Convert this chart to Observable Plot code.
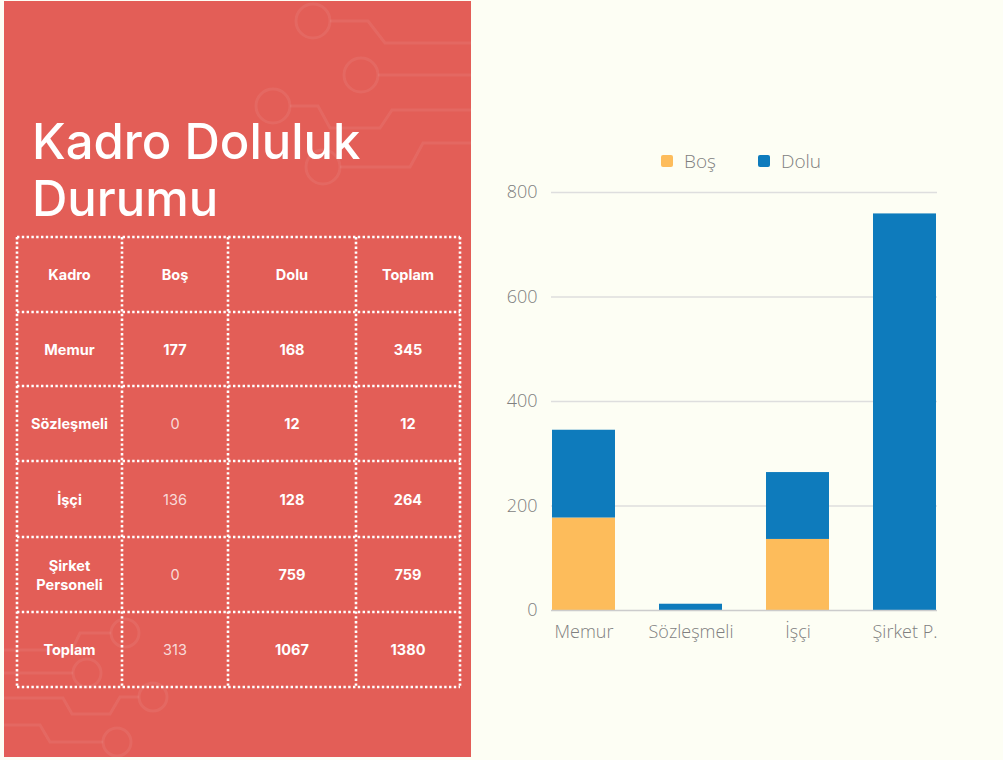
<!DOCTYPE html>
<html>
<head>
<meta charset="utf-8">
<script src="https://cdn.jsdelivr.net/npm/d3@7"></script>
<script src="https://cdn.jsdelivr.net/npm/@observablehq/plot@0.6"></script>
<style>
  html, body { margin: 0; padding: 0; background: #FDFEF4; }
  #page { position: relative; width: 1003px; height: 760px; overflow: hidden; background: #FDFEF4; }
  #left { position: absolute; left: 4px; top: 1px; width: 467px; height: 756px; background: #E35E57; }
  #deco { position: absolute; left: -4px; top: -1px; }
  #title { position: absolute; left: 28px; top: 112px; margin: 0; color: #fff;
           font-family: Inter, "Open Sans", sans-serif; font-weight: 500; font-size: 49px; line-height: 57px; letter-spacing: 0px; }
  .cell { position: absolute; display: flex; align-items: center; justify-content: center; text-align: center;
          color: #fff; font-family: Inter, Roboto, sans-serif; font-weight: 700; font-size: 14.5px; line-height: 19px; }
  .cell.light { font-weight: 400; color: rgba(255,255,255,0.78); }
  #chart { position: absolute; left: 471px; top: 0px; }
  #legend { position: absolute; top: 148px; left: 0; width: 1003px; font-family: "Open Sans", sans-serif; font-weight: 300; font-size: 19px; color: #7f7f7f; }
  .li { position: absolute; display: flex; align-items: center; }
  .sw { width: 12px; height: 12px; border-radius: 2px; margin-right: 11px; }
</style>
</head>
<body>
<div id="page">
  <div id="left">
    <svg id="deco" width="475" height="760"></svg>
    <h1 id="title">Kadro Doluluk<br>Durumu</h1>
  </div>
  <div id="legend"></div>
  <div id="chart"></div>
</div>
<script>
// ---- data ----
const categories = ["Memur", "Sözleşmeli", "İşçi", "Şirket P."];
const series = ["Boş", "Dolu"];
const bos = [177, 0, 136, 0];
const dolu = [168, 12, 128, 759];
const yTicks = [0, 200, 400, 600, 800];
const seriesColors = ["#FDBC5B", "#0E7BBC"];

const tableHeaders = ["Kadro", "Boş", "Dolu", "Toplam"];
const tableRows = ["Memur", "Sözleşmeli", "İşçi", "Şirket<br>Personeli", "Toplam"];
const tableBos = [177, 0, 136, 0, 313];
const tableDolu = [168, 12, 128, 759, 1067];
const tableToplam = [345, 12, 264, 759, 1380];
const lightBos = [false, true, true, true, true];

// ---- decorative circuit lines (left panel) ----
const deco = d3.select("#deco");
const decoStroke = "rgba(255,255,255,0.065)";
const circles = [[313,21,17],[361,75,17],[273,106,17],[323,167,17],[125,633,14],[87,673,14],[153,697,14],[117,742,14]];
const paths = [
  [[330,21],[368,21],[385,43],[475,43]],
  [[378,75],[475,75]],
  [[290,106],[318,106],[330,128],[380,128],[392,110],[475,110]],
  [[340,167],[410,167],[423,143],[475,143]],
  [[0,650],[72,650],[80,633],[111,633]],
  [[0,673],[73,673]],
  [[0,698],[63,698],[72,714],[110,714],[120,697],[139,697]],
  [[0,725],[40,725],[50,742],[103,742]]
];
circles.forEach(([cx,cy,r]) => deco.append("circle").attr("cx",cx).attr("cy",cy).attr("r",r)
  .attr("fill","none").attr("stroke",decoStroke).attr("stroke-width",3));
paths.forEach(p => deco.append("path").attr("d", d3.line()(p))
  .attr("fill","none").attr("stroke",decoStroke).attr("stroke-width",3));

// ---- table ----
const left = document.getElementById("left");
const colX = [17, 122, 228, 356, 460];
const rowY = [237, 312, 386, 461, 537, 612, 687];
const ox = 4, oy = 1; // panel offset
function addCell(txt, c, r, light) {
  const d = document.createElement("div");
  d.className = "cell" + (light ? " light" : "");
  d.style.left = (colX[c] - ox) + "px";
  d.style.top = (rowY[r] - oy) + "px";
  d.style.width = (colX[c+1] - colX[c]) + "px";
  d.style.height = (rowY[r+1] - rowY[r]) + "px";
  d.innerHTML = txt;
  left.appendChild(d);
}
tableHeaders.forEach((h, c) => addCell(h, c, 0, false));
tableRows.forEach((name, i) => {
  addCell(name, 0, i+1, false);
  addCell(tableBos[i], 1, i+1, lightBos[i]);
  addCell(tableDolu[i], 2, i+1, false);
  addCell(tableToplam[i], 3, i+1, false);
});
// dotted grid lines
const dot = {stroke: "#fff", "stroke-width": 2.6, "stroke-dasharray": "2.4 2.4"};
function dline(x1,y1,x2,y2){
  const l = deco.append("line").attr("x1",x1).attr("y1",y1).attr("x2",x2).attr("y2",y2);
  Object.entries(dot).forEach(([k,v]) => l.attr(k,v));
}
rowY.forEach(y => dline(colX[0], y, colX[4], y));
colX.forEach(x => dline(x, rowY[0], x, rowY[6]));

// ---- legend ----
const legend = document.getElementById("legend");
const legendX = [661, 758];
series.forEach((s, i) => {
  const li = document.createElement("div");
  li.className = "li";
  li.style.left = legendX[i] + "px";
  li.innerHTML = `<span class="sw" style="background:${seriesColors[i]}"></span><span>${s}</span>`;
  legend.appendChild(li);
});

// ---- chart ----
const data = [];
categories.forEach((c, i) => {
  data.push({cat: c, series: series[0], value: bos[i]});
  data.push({cat: c, series: series[1], value: dolu[i]});
});

const chart = Plot.plot({
  width: 532,
  height: 700,
  marginLeft: 80,
  marginRight: 66,
  marginTop: 192,
  marginBottom: 90,
  style: {background: "transparent", fontFamily: "'Open Sans', sans-serif", fontWeight: 300, fontSize: "18px", color: "#7f7f7f", overflow: "visible"},
  x: {domain: categories, paddingInner: 0.41, paddingOuter: 0, label: null, tickSize: 0, tickPadding: 15},
  y: {domain: [0, 800], ticks: yTicks, label: null, tickSize: 0, tickPadding: 14},
  color: {domain: series, range: seriesColors},
  marks: [
    Plot.ruleY(yTicks.filter(d => d > 0), {stroke: "#dedede", strokeWidth: 1.3}),
    Plot.barY(data, {x: "cat", y: "value", fill: "series"}),
    Plot.ruleY([0], {stroke: "#cccccc", strokeWidth: 1.5})
  ]
});
document.getElementById("chart").appendChild(chart);
</script>
</body>
</html>
